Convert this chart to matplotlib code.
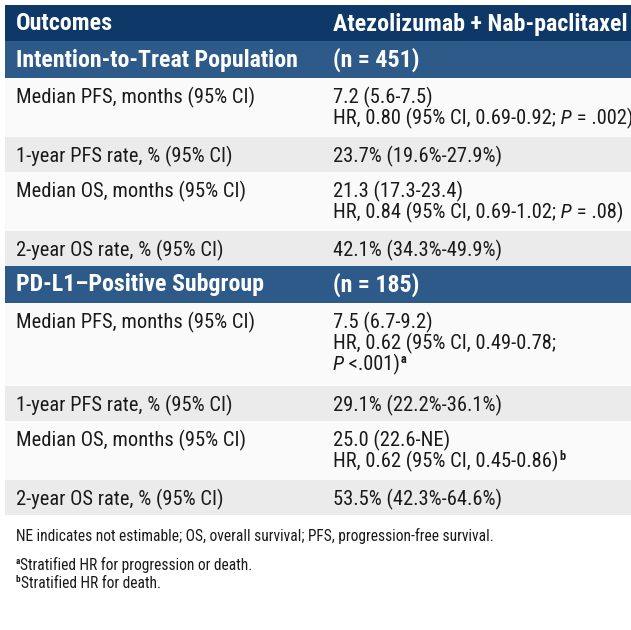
import matplotlib
matplotlib.use("Agg")
import matplotlib.pyplot as plt
from matplotlib import font_manager
from matplotlib.patches import Rectangle

# ---- table content ----
header = ["Outcomes", "Atezolizumab + Nab-paclitaxel"]
sections = ["Intention-to-Treat Population", "PD-L1\u2013Positive Subgroup"]
section_n = ["(n = 451)", "(n = 185)"]
outcomes = ["Median PFS, months (95% CI)",
            "1-year PFS rate, % (95% CI)",
            "Median OS, months (95% CI)",
            "2-year OS rate, % (95% CI)"]

# each cell = list of lines, each line = list of (text, style) runs
itt_values = [
    [[("7.2 (5.6-7.5)", "n")],
     [("HR, 0.80 (95% CI, 0.69-0.92;", "n"), (" P", "i"), (" = .002)", "n")]],
    [[("23.7% (19.6%-27.9%)", "n")]],
    [[("21.3 (17.3-23.4)", "n")],
     [("HR, 0.84 (95% CI, 0.69-1.02;", "n"), (" P", "i"), (" = .08)", "n")]],
    [[("42.1% (34.3%-49.9%)", "n")]],
]
pdl1_values = [
    [[("7.5 (6.7-9.2)", "n")],
     [("HR, 0.62 (95% CI, 0.49-0.78;", "n")],
     [("P", "i"), (" <.001)", "n"), ("a", "sup")]],
    [[("29.1% (22.2%-36.1%)", "n")]],
    [[("25.0 (22.6-NE)", "n")],
     [("HR, 0.62 (95% CI, 0.45-0.86)", "n"), ("b", "sup")]],
    [[("53.5% (42.3%-64.6%)", "n")]],
]
footnote = "NE indicates not estimable; OS, overall survival; PFS, progression-free survival."
note_marks = ["a", "b"]
note_texts = ["Stratified HR for progression or death.", "Stratified HR for death."]

# ---- font: a condensed family with static regular + bold files ----
PREFS = ["Roboto Condensed", "Archivo Narrow", "IBM Plex Sans Condensed",
         "Fira Sans Condensed", "Asap Condensed", "PT Sans Narrow",
         "Barlow Semi Condensed", "Liberation Sans Narrow"]
faces = {}
for f in font_manager.fontManager.ttflist:
    if "[" in f.fname:
        continue
    w = f.weight if isinstance(f.weight, int) else 400
    faces.setdefault(f.name, set()).add((f.style, w))
FONT = "DejaVu Sans"
for name in PREFS:
    s = faces.get(name, set())
    if ("normal", 400) in s and any(w >= 600 and st == "normal" for st, w in s):
        FONT = name
        break

NAVY = "#0e3867"
BLUE = "#2d5a89"
GRAY = "#ebebeb"
LIGHT = "#fafafa"
TXT = "#1a1a1a"

W, H = 631, 630
fig = plt.figure(figsize=(W / 100, H / 100), dpi=100)
ax = fig.add_axes([0, 0, 1, 1])
ax.set_xlim(0, W)
ax.set_ylim(H, 0)
ax.axis("off")
renderer = fig.canvas.get_renderer()

LEFT, COL1, COL2 = 5, 16, 333


def fit_size(sample, target, weight="normal"):
    # font size that makes `sample` span `target` pixels, as in the reference
    t = ax.text(0, 0, sample, fontsize=10, family=FONT, fontweight=weight)
    w = t.get_window_extent(renderer).width
    t.remove()
    return 10 * target / w


BODY = fit_size(outcomes[0], 237)
HEAD = fit_size(header[1], 295, "bold")
SECT = fit_size(sections[0], 282, "bold")
NOTE = fit_size(footnote, 476)


def draw_runs(x, y, runs, size, color=TXT, weight="normal"):
    for text, style in runs:
        kw = dict(fontsize=size, color=color, fontweight=weight, family=FONT,
                  va="center", ha="left")
        yy = y
        if style == "i":
            kw["fontstyle"] = "italic"
        elif style == "sup":
            kw["fontsize"] = size * 0.6
            kw["fontweight"] = "bold"
            yy = y - size * 0.33
            x += 1
        t = ax.text(x, yy, text, **kw)
        x += t.get_window_extent(renderer).width


def band(top, height, color):
    ax.add_patch(Rectangle((LEFT, top), W - LEFT, height, color=color, lw=0))


y = 5
band(y, 36, NAVY)
draw_runs(COL1, y + 19, [(header[0], "n")], HEAD, "white", "bold")
draw_runs(COL2, y + 19, [(header[1], "n")], HEAD, "white", "bold")
y += 36

for sec, n, vals in zip(sections, section_n, [itt_values, pdl1_values]):
    band(y, 37, BLUE)
    draw_runs(COL1, y + 19, [(sec, "n")], SECT, "white", "bold")
    draw_runs(COL2, y + 19, [(n, "n")], SECT, "white", "bold")
    y += 37
    for i, (label, cell) in enumerate(zip(outcomes, vals)):
        h = 35 + 24 * (len(cell) - 1)
        band(y, h, LIGHT if i % 2 == 0 else GRAY)
        draw_runs(COL1, y + 19, [(label, "n")], BODY)
        for k, line in enumerate(cell):
            draw_runs(COL2, y + 19 + 21 * k, line, BODY)
        y += h

draw_runs(COL1, 536, [(footnote, "n")], NOTE)
for k, (m, t) in enumerate(zip(note_marks, note_texts)):
    draw_runs(COL1 - 1, 565 + 18 * k, [(m, "sup"), (t, "n")], NOTE)

fig.savefig("out.png", dpi=100)
